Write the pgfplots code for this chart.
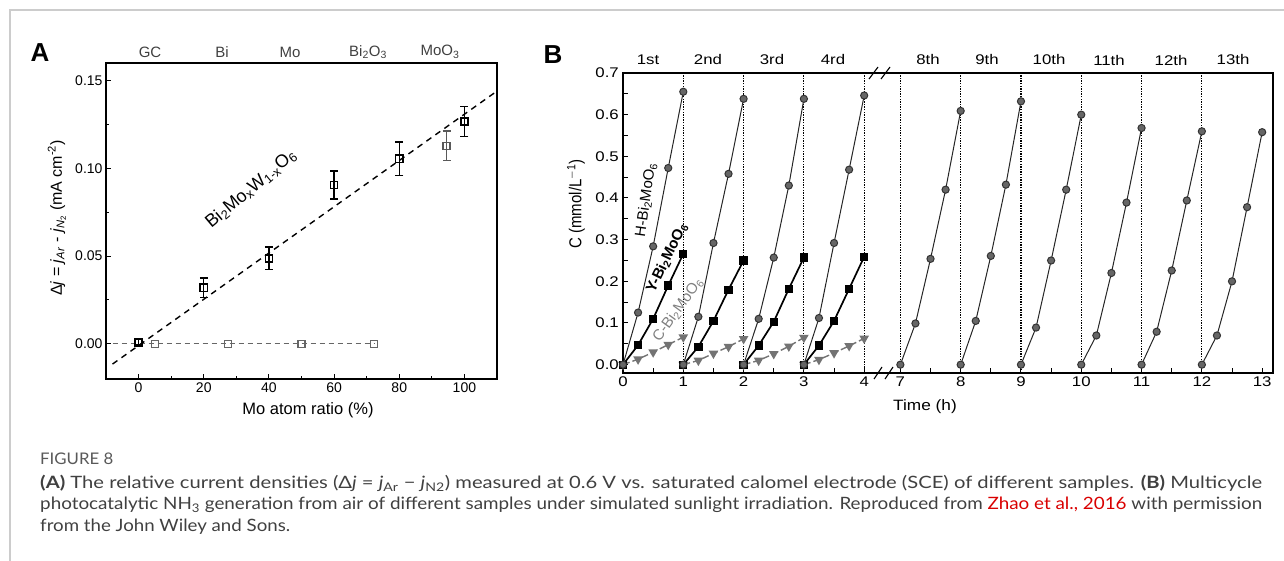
\documentclass[border=0pt]{standalone}
\usepackage{fontspec}
\setmainfont{Liberation Sans}
\newfontfamily\capfont{Lato}
\usepackage{graphicx}
\usepackage{pgfplots}
\pgfplotsset{compat=1.18}
\usepackage{pgfplotstable}

% ---------- Panel A data ----------
\pgfplotstableread{
x y e
0 0.001 0.0015
20 0.032 0.0055
40 0.0487 0.0065
60 0.0905 0.008
80 0.1054 0.0095
100 0.1266 0.0085
}\Ablack
\pgfplotstableread{
x y e
94.5 0.1128 0.0085
}\Agray
\pgfplotstableread{
x y
5 0
27.5 0
50 0
72.2 0
}\Azero
\pgfplotstableread{
x y
-8 -0.0115
110 0.1440
}\Afit
\pgfplotstableread{
x y
-8 0
72.2 0
}\Azerofit

% ---------- Panel B data ----------
\pgfplotstableread{
t c
0 0
0.25 0.125
0.5 0.284
0.75 0.472
1 0.655
nan nan
1 0
1.25 0.115
1.5 0.292
1.75 0.458
2 0.638
nan nan
2 0
2.25 0.110
2.5 0.257
2.75 0.430
3 0.638
nan nan
3 0
3.25 0.112
3.5 0.292
3.75 0.468
4 0.646
}\Hone
\pgfplotstableread{
t c
7 0
7.25 0.099
7.5 0.254
7.75 0.420
8 0.609
nan nan
8 0
8.25 0.105
8.5 0.261
8.75 0.432
9 0.632
nan nan
9 0
9.25 0.089
9.5 0.250
9.75 0.420
10 0.600
nan nan
10 0
10.25 0.070
10.5 0.220
10.75 0.389
11 0.568
nan nan
11 0
11.25 0.079
11.5 0.226
11.75 0.394
12 0.560
nan nan
12 0
12.25 0.070
12.5 0.200
12.75 0.378
13 0.558
}\Htwo
\pgfplotstableread{
t c
0 0
0.25 0.047
0.5 0.110
0.75 0.190
1 0.266
nan nan
1 0
1.25 0.043
1.5 0.105
1.75 0.180
2 0.250
nan nan
2 0
2.25 0.046
2.5 0.103
2.75 0.182
3 0.257
nan nan
3 0
3.25 0.046
3.5 0.105
3.75 0.182
4 0.259
}\Yone
\pgfplotstableread{
t c
0 0
0.25 0.013
0.5 0.030
0.75 0.048
1 0.066
nan nan
1 0
1.25 0.010
1.5 0.027
1.75 0.043
2 0.062
nan nan
2 0
2.25 0.010
2.5 0.026
2.75 0.044
3 0.065
nan nan
3 0
3.25 0.012
3.5 0.028
3.75 0.045
4 0.063
}\Cone

\begin{document}
\begin{tikzpicture}[x=1pt,y=1pt]
\useasboundingbox (0,0) rectangle (1284,561);
\draw[black!20, line width=1.2pt] (10,0) -- (10,551) -- (1284,551);

% ================= Panel A =================
\begin{axis}[
  at={(106pt,182pt)}, anchor=south west,
  width=391pt, height=316pt, scale only axis,
  xmin=-10, xmax=110, ymin=-0.02, ymax=0.16,
  xtick={0,20,40,60,80,100},
  ytick={0,0.05,0.10,0.15},
  minor x tick num=1, minor y tick num=1,
  xtick pos=bottom, ytick pos=left, tick align=inside,
  major tick length=5pt, minor tick length=3pt,
  axis line style={line width=1.4pt},
  every tick/.style={line width=1pt, black},
  tick label style={font=\fontsize{14}{16}\selectfont},
  /pgf/number format/assume math mode=true,
  yticklabel style={/pgf/number format/.cd, fixed, fixed zerofill, precision=2},
  unbounded coords=jump, clip=false,
]
\addplot[black!60, line width=1.2pt, dash pattern=on 5pt off 4pt] table[x=x,y=y] {\Azerofit};
\addplot[black, line width=1.4pt, dash pattern=on 6pt off 5pt] table[x=x,y=y] {\Afit};
\addplot[black!60, only marks, mark=square, mark size=3.6pt, mark options={line width=1.3pt, fill=white}] table[x=x,y=y] {\Azero};
\addplot[black!65, only marks, mark=square, mark size=3.6pt, mark options={line width=1.3pt, fill=white},
  error bars/.cd, y dir=both, y explicit,
  error bar style={line width=1.2pt, black!65},
  error mark options={rotate=90, mark size=4pt, line width=1.2pt, black!65}]
  table[x=x,y=y,y error=e] {\Agray};
\addplot[black, only marks, mark=square, mark size=3.6pt, mark options={line width=1.6pt, fill=white},
  error bars/.cd, y dir=both, y explicit,
  error bar style={line width=1.4pt, black},
  error mark options={rotate=90, mark size=4pt, line width=1.4pt, black}]
  table[x=x,y=y,y error=e] {\Ablack};
\end{axis}

\node[font=\bfseries\fontsize{26}{28}\selectfont] at (40,508) {A};
\begin{scope}[every node/.style={font=\fontsize{15}{17}\selectfont, text=black!75}]
\node at (150,509) {GC};
\node at (222,509) {Bi};
\node at (290,509) {Mo};
\node at (368,509) {Bi\textsubscript{2}O\textsubscript{3}};
\node at (440,509) {MoO\textsubscript{3}};
\end{scope}
\node[font=\fontsize{16.5}{18}\selectfont] at (308,151) {Mo atom ratio (\%)};
\node[rotate=90, font=\fontsize{16}{18}\selectfont] at (57,343)
  {Δ\textit{j} = \textit{j}\textsubscript{\textit{Ar}} - \textit{j}\textsubscript{\textit{N}\textsubscript{2}} (mA cm\textsuperscript{-2})};
\node[rotate=40, font=\fontsize{18}{20}\selectfont] at (251,372)
  {Bi\textsubscript{2}Mo\textsubscript{x}W\textsubscript{1-x}O\textsubscript{6}};

% ================= Panel B =================
\begin{axis}[
  at={(623pt,188pt)}, anchor=south west,
  width=650pt, height=300pt, scale only axis,
  xmin=0, xmax=10.78, ymin=-0.02, ymax=0.7,
  xtick={0,1,2,3,4,4.6,5.6,6.6,7.6,8.6,9.6,10.6},
  xticklabels={0,1,2,3,4,7,8,9,10,11,12,13},
  minor xtick={0.5,1.5,2.5,3.5,5.1,6.1,7.1,8.1,9.1,10.1},
  ytick={0,0.1,0.2,0.3,0.4,0.5,0.6,0.7},
  minor y tick num=1,
  xtick pos=bottom, ytick pos=left, tick align=inside,
  major tick length=5pt, minor tick length=5pt,
  axis line style={line width=1.3pt},
  every tick/.style={line width=1pt, black},
  tick label style={font=\fontsize{14}{16}\selectfont, xscale=1.2},
  /pgf/number format/assume math mode=true,
  yticklabel style={/pgf/number format/.cd, fixed, fixed zerofill, precision=1},
  unbounded coords=jump, clip=false,
]
\pgfplotsinvokeforeach{1,2,3,4,4.6,5.6,6.6,7.6,8.6,9.6}{
  \draw[black, line width=1.1pt, dash pattern=on 1.3pt off 1.3pt] (axis cs:#1,-0.02) -- (axis cs:#1,0.7);
}
% C-Bi2MoO6
\addplot[black!55, line width=1.4pt, dash pattern=on 7pt off 3pt, mark=triangle*, mark size=4.2pt,
  mark options={solid, rotate=180, fill=black!55, draw=black!55}] table[x=t,y=c] {\Cone};
% Y-Bi2MoO6
\addplot[black, line width=1.7pt, mark=square*, mark size=3.3pt, mark options={fill=black}] table[x=t,y=c] {\Yone};
% H-Bi2MoO6
\addplot[black!85, line width=1pt, mark=*, mark size=3.6pt, mark options={fill=black!60, draw=black!80}] table[x=t,y=c] {\Hone};
\addplot[black!85, line width=1pt, mark=*, mark size=3.6pt, mark options={fill=black!60, draw=black!80}] table[x expr=\thisrow{t}-2.4,y=c] {\Htwo};
\end{axis}

% axis break marks
\draw[white, line width=3pt] (871,488) -- (891,488);
\draw[black, line width=1.3pt] (864,488) -- (897,488);
\draw[black, line width=1.1pt] (869,482) -- (878,494);
\draw[black, line width=1.1pt] (881,482) -- (890,494);
\draw[black, line width=1.1pt] (874,182) -- (882,194);
\draw[black, line width=1.1pt] (885,182) -- (893,194);

\node[font=\bfseries\fontsize{26}{28}\selectfont] at (553,506) {B};
\begin{scope}[every node/.style={font=\fontsize{14}{16}\selectfont, xscale=1.2}]
\node at (648,501) {1st};
\node at (708,501) {2nd};
\node at (772,501) {3rd};
\node at (833,501) {4rd};
\node at (928,501) {8th};
\node at (987,501) {9th};
\node at (1049,501) {10th};
\node at (1109,501) {11th};
\node at (1171,501) {12th};
\node at (1233,501) {13th};
\end{scope}
\node[font=\fontsize{15}{17}\selectfont, xscale=1.15] at (925,154) {Time (h)};
\node[rotate=90, font=\fontsize{15}{17}\selectfont, yscale=1.15] at (576,357) {C (mmol/L\textsuperscript{$-$1})};
\node[rotate=82, font=\fontsize{15}{17}\selectfont] at (646,361) {H-Bi\textsubscript{2}MoO\textsubscript{6}};
\node[rotate=64, font=\bfseries\fontsize{15}{17}\selectfont] at (667,303) {Y-Bi\textsubscript{2}MoO\textsubscript{6}};
\node[rotate=54, font=\fontsize{15}{17}\selectfont, text=black!50] at (678,251) {C-Bi\textsubscript{2}MoO\textsubscript{6}};

% ================= Caption =================
\node[anchor=base west, inner sep=0pt, text=black!65, font=\capfont\fontsize{16}{20}\selectfont, xscale=1.05] at (40,96) {FIGURE 8};
\begin{scope}[every node/.style={anchor=base west, inner sep=0pt, text=black!75, font=\capfont\fontsize{17}{20}\selectfont}]
\node at (40,72) {\resizebox{1222pt}{\height}{\textbf{(A)} The relative current densities (Δ\textit{j} = \textit{j}\textsubscript{Ar} − \textit{j}\textsubscript{N2}) measured at 0.6 V vs. saturated calomel electrode (SCE) of different samples. \textbf{(B)} Multicycle}};
\node at (40,51) {\resizebox{1222pt}{\height}{photocatalytic NH\textsubscript{3} generation from air of different samples under simulated sunlight irradiation. Reproduced from \textcolor{red!85!black}{Zhao et al., 2016} with permission}};
\node at (40,29) {\resizebox{250pt}{\height}{from the John Wiley and Sons.}};
\end{scope}
\end{tikzpicture}
\end{document}
